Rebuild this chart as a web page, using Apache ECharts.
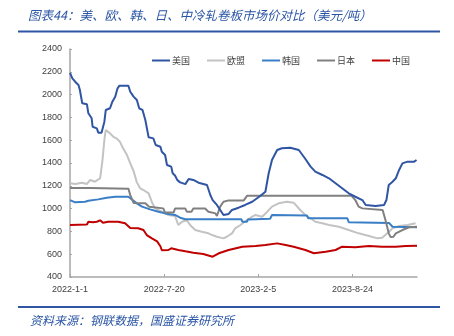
<!DOCTYPE html>
<html><head><meta charset="utf-8">
<script src="https://cdn.jsdelivr.net/npm/echarts@6/dist/echarts.min.js"></script>
<style>html,body{margin:0;padding:0;background:#fff}#c{width:454px;height:336px}</style>
</head><body><div id="c"></div>
<script>
// day offsets from 2022-01-01, price in USD/t
const usData = [[0,2190],[5,2143],[11,2113],[18,2084],[21,2040],[26,1924],[36,1915],[39,1836],[46,1792],[48,1718],[57,1704],[60,1666],[67,1666],[73,1762],[76,1865],[85,1880],[90,1938],[96,1982],[101,2055],[105,2078],[124,2078],[128,2025],[135,1982],[142,1953],[147,1880],[154,1865],[160,1777],[167,1625],[177,1616],[182,1558],[192,1543],[195,1499],[202,1470],[206,1382],[215,1368],[218,1310],[223,1290],[228,1250],[234,1230],[245,1215],[252,1260],[262,1251],[273,1227],[291,1207],[298,1119],[303,1075],[312,1032],[319,988],[326,944],[337,953],[344,988],[358,1008],[372,1032],[387,1060],[404,1110],[415,1148],[422,1310],[429,1426],[440,1514],[450,1529],[468,1534],[486,1514],[489,1499],[500,1435],[511,1368],[521,1324],[536,1295],[550,1266],[564,1222],[578,1178],[592,1134],[606,1104],[621,1075],[628,1032],[649,1023],[667,1032],[672,1075],[677,1207],[685,1236],[692,1266],[699,1339],[706,1397],[717,1412],[731,1412],[736,1426]];
const euData = [[0,1222],[11,1216],[25,1227],[36,1216],[43,1251],[53,1236],[64,1266],[69,1426],[73,1602],[76,1690],[80,1696],[85,1660],[92,1630],[99,1616],[106,1587],[111,1543],[121,1470],[128,1397],[135,1330],[142,1230],[149,1178],[156,1163],[167,1134],[175,1046],[181,1002],[195,973],[209,944],[223,935],[230,856],[238,885],[248,900],[255,856],[266,812],[280,797],[294,783],[302,768],[312,753],[326,739],[333,753],[344,783],[351,827],[362,856],[376,900],[387,929],[394,944],[408,929],[419,973],[429,1017],[443,1046],[461,1060],[475,1052],[489,988],[500,944],[511,915],[521,885],[536,871],[550,856],[571,841],[592,812],[613,783],[635,759],[653,739],[663,745],[674,783],[685,827],[699,847],[717,856],[734,871]];
const krData = [[0,1075],[11,1055],[32,1060],[39,1069],[60,1081],[78,1096],[96,1104],[124,1104],[128,1090],[142,1046],[153,1017],[170,993],[188,973],[202,958],[223,944],[234,920],[245,906],[364,906],[366,885],[376,885],[378,905],[425,910],[429,944],[503,940],[506,915],[589,915],[592,880],[678,873],[685,841],[737,836]];
const jpData = [[0,1180],[32,1180],[36,1192],[43,1180],[124,1175],[128,1119],[135,1050],[160,1046],[168,1017],[198,1002],[202,965],[220,965],[223,1000],[245,1000],[248,973],[258,973],[262,1000],[287,1000],[294,973],[309,958],[312,935],[319,1017],[326,1060],[337,1072],[369,1072],[376,1112],[598,1112],[606,1075],[613,1017],[621,1002],[664,988],[670,900],[677,783],[681,750],[687,753],[692,783],[706,812],[720,836],[737,841]];
const cnData = [[0,856],[36,860],[39,885],[49,880],[57,885],[64,897],[70,876],[81,885],[102,885],[117,871],[128,830],[145,827],[156,812],[163,768],[174,739],[185,712],[192,670],[195,635],[209,637],[215,652],[230,637],[245,625],[262,613],[283,602],[303,578],[316,608],[337,637],[366,666],[394,671],[415,681],[440,695],[458,681],[475,666],[500,637],[518,608],[543,622],[564,637],[578,666],[606,661],[635,671],[663,666],[692,666],[713,671],[737,675]];
const seriesNames = ['美国','欧盟','韩国','日本','中国'];
const xTickLabels = ['2022-1-1','2022-7-20','2023-2-5','2023-8-24'];
const titleText = '图表44：美、欧、韩、日、中冷轧卷板市场价对比（美元/吨）';
const sourceText = '资料来源：钢联数据，国盛证券研究所';

const colors = ['#2F55A3','#C3C3C3','#3A7EC6','#808080','#C00000'];
const datas = [usData, euData, krData, jpData, cnData];
const chart = echarts.init(document.getElementById('c'));
chart.setOption({
  animation:false,
  color: colors,
  graphic:[
    {type:'text', left:28, top:9, style:{text:titleText, font:'italic 12.5px "Noto Sans CJK SC"', fill:'#2A55A5'}},
    {type:'rect', shape:{x:18,y:30.5,width:422,height:2}, style:{fill:'#2F55A3'}},
    {type:'rect', shape:{x:18,y:306,width:422,height:2}, style:{fill:'#2F55A3'}},
    {type:'text', left:30, top:314, style:{text:sourceText, font:'italic 12px "Noto Sans CJK SC"', fill:'#2A55A5'}}
  ],
  legend:{
    left:147, top:51, itemWidth:18, itemHeight:2, itemGap:17, icon:'rect',
    textStyle:{fontSize:9, color:'#404040', fontFamily:'Noto Sans CJK SC', padding:[0,0,0,-3]},
    data: seriesNames
  },
  grid:{left:70, right:37, top:49, bottom:59},
  xAxis:{
    type:'value', min:0, max:737, interval:200,
    axisLine:{show:true, lineStyle:{color:'#A6A6A6', width:1.5}},
    axisTick:{show:true, inside:true, length:3, lineStyle:{color:'#A6A6A6'}},
    splitLine:{show:false},
    axisLabel:{showMaxLabel:false, margin:8, fontSize:9, color:'#404040', fontFamily:'Liberation Sans',
      formatter:function(v){ return v % 200 === 0 ? (xTickLabels[v/200] || '') : ''; }}
  },
  yAxis:{
    type:'value', min:400, max:2400, interval:200,
    axisLine:{show:true, lineStyle:{color:'#A6A6A6', width:1.5}},
    axisTick:{show:true, inside:true, length:2, lineStyle:{color:'#A6A6A6'}},
    splitLine:{show:false},
    axisLabel:{margin:8, fontSize:9, color:'#404040', fontFamily:'Liberation Sans',
      formatter:function(v){ return String(v); }}
  },
  series: seriesNames.map((n,i)=>({
    name:n, type:'line', data:datas[i], showSymbol:false, symbol:'none',
    lineStyle:{width:2, color:colors[i]}, z: i===0?5:3
  }))
});
</script></body></html>
